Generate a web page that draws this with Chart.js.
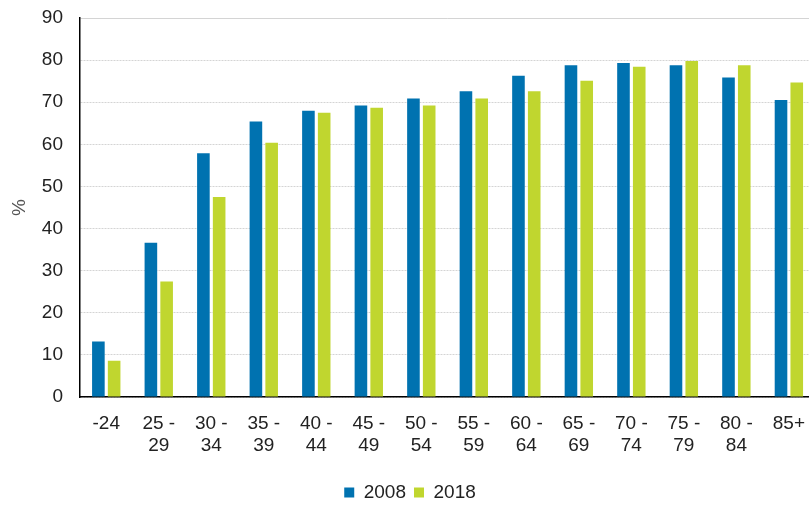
<!DOCTYPE html>
<html>
<head>
<meta charset="utf-8">
<script src="https://cdn.jsdelivr.net/npm/chart.js@4/dist/chart.umd.min.js"></script>
<style>
html,body{margin:0;padding:0;background:#fff;overflow:hidden;}
#wrap{width:820px;height:505px;position:relative;}
</style>
</head>
<body>
<div id="wrap"><canvas id="c"></canvas></div>
<script>
const categories = [["-24"],["25 -","29"],["30 -","34"],["35 -","39"],["40 -","44"],["45 -","49"],["50 -","54"],["55 -","59"],["60 -","64"],["65 -","69"],["70 -","74"],["75 -","79"],["80 -","84"],["85+"]];
const series2008 = [13.2, 36.6, 57.9, 65.4, 68.0, 69.2, 70.9, 72.6, 76.3, 78.8, 79.3, 78.8, 75.9, 70.5];
const series2018 = [8.6, 27.4, 47.5, 60.4, 67.5, 68.7, 69.2, 70.9, 72.6, 75.1, 78.4, 79.8, 78.8, 74.7];
const yTicks = [0,10,20,30,40,50,60,70,80,90];
const seriesNames = ["2008","2018"];

Chart.defaults.font.family = "'Liberation Sans', Arial, sans-serif";
Chart.defaults.color = "#222";

new Chart(document.getElementById('c'), {
  type: 'bar',
  data: {
    labels: categories,
    datasets: [
      {label: seriesNames[0], data: series2008, backgroundColor: '#0072b0'},
      {label: seriesNames[1], data: series2018, backgroundColor: '#c0d62f'}
    ]
  },
  options: {
    responsive: true,
    maintainAspectRatio: false,
    animation: false,
    layout: {padding: {top: 18, bottom: -7, left: 0, right: 0}},
    datasets: {bar: {barPercentage: 0.8, categoryPercentage: 0.6}},
    plugins: {
      tooltip: {enabled: false},
      legend: {
        position: 'bottom',
        labels: {boxWidth: 10, boxHeight: 10, padding: 8, font: {size: 19}, color: '#222'}
      }
    },
    scales: {
      x: {
        grid: {display: false, drawTicks: false},
        border: {display: true, color: '#000', width: 1.5},
        afterFit: s => { s.height = 78; },
        ticks: {font: {size: 19}, padding: 15, maxRotation: 0, autoSkip: false, color: '#222'}
      },
      y: {
        min: 0, max: 90,
        afterBuildTicks: s => { s.ticks = yTicks.map(v => ({value: v})); },
        afterFit: s => { s.width = 80; s.paddingTop = 0; s.paddingBottom = 0; },
        title: {display: true, text: '%', font: {size: 19}, color: '#555', padding: {top: 8, bottom: 0}},
        grid: {color: '#d4d4d4', lineWidth: 1, drawTicks: false},
        border: {display: true, color: '#000', width: 1.5, dash: c => (c.tick && c.tick.value === 90) ? [] : [2, 1]},
        ticks: {font: {size: 19}, padding: 17, color: '#222'}
      }
    }
  }
});
</script>
</body>
</html>
